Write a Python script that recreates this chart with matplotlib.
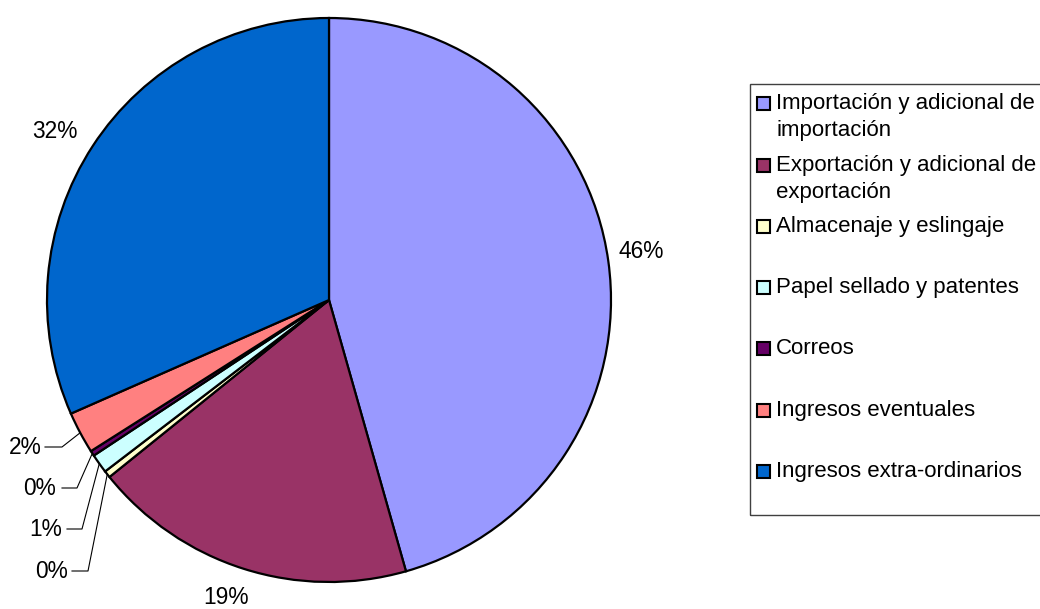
import numpy as np
import matplotlib
matplotlib.use("Agg")
import matplotlib.pyplot as plt
from matplotlib.patches import Rectangle

plt.rcParams['font.family'] = ['Liberation Sans', 'DejaVu Sans']

# income shares (%)
categories = ["Importación y adicional de\nimportación",
              "Exportación y adicional de\nexportación",
              "Almacenaje y eslingaje",
              "Papel sellado y patentes",
              "Correos",
              "Ingresos eventuales",
              "Ingresos extra-ordinarios"]
shares = [45.6, 18.6, 0.4, 1.1, 0.3, 2.4, 31.6]
colors = ["#9999FF", "#993366", "#FFFFCC", "#CCFFFF", "#660066", "#FF8080", "#0066CC"]

W, H = 1040, 609
CX, CY, R = 329, 300, 282


def px(x, y):
    # pixel position -> data coordinates (pie radius = 1)
    return (x - CX) / R, (CY - y) / R


fig = plt.figure(figsize=(W / 100, H / 100), dpi=100)
ax = fig.add_axes([0, 0, 1, 1])

wedges, _ = ax.pie(shares, colors=colors, startangle=90, counterclock=False,
                   radius=1, center=(0, 0), frame=True,
                   wedgeprops=dict(edgecolor='black', linewidth=1.6))
ax.set_aspect('auto')
ax.set_xlim(px(0, 0)[0], px(W, 0)[0])
ax.set_ylim(px(0, H)[1], px(0, 0)[1])
ax.axis('off')

labels = ["%d%%" % round(s) for s in shares]
fs = 16.4

# big slices: plain labels
big = {0: (641, 251), 1: (226, 598), 6: (55, 131)}
for i, (x, y) in big.items():
    ax.text(*px(x, y), labels[i], ha='center', va='center', fontsize=fs)

# small slices: label right edge, y, leader start/end of horizontal run
small = {5: (42, 447, 45, 62), 4: (56, 488, 62, 77),
         3: (62, 529, 67, 82), 2: (68, 571, 72, 88)}
for i, (x, y, l0, l1) in small.items():
    w = wedges[i]
    mid = np.deg2rad((w.theta1 + w.theta2) / 2)
    ex, ey = np.cos(mid), np.sin(mid)
    ax.text(*px(x, y), labels[i], ha='right', va='center', fontsize=fs)
    x1, y1 = px(l0, y)
    x2, y2 = px(l1, y)
    ax.plot([x1, x2, ex], [y1, y2, ey], color='black', linewidth=0.8)

# legend
ax.add_patch(Rectangle(px(750, 515), (1100 - 750) / R, (515 - 84) / R,
                       facecolor='none', edgecolor='#404040', linewidth=1.0,
                       clip_on=False))
rows = [103, 165, 226, 287, 348, 410, 471]
for lab, col, y in zip(categories, colors, rows):
    ax.add_patch(Rectangle(px(757, y + 6.5), 13 / R, 13 / R,
                           facecolor=col, edgecolor='black', linewidth=1.5))
    for k, line in enumerate(lab.split("\n")):
        ax.text(*px(776, y + 27 * k), line, ha='left', va='center', fontsize=16)

fig.savefig("out.png", dpi=100)
